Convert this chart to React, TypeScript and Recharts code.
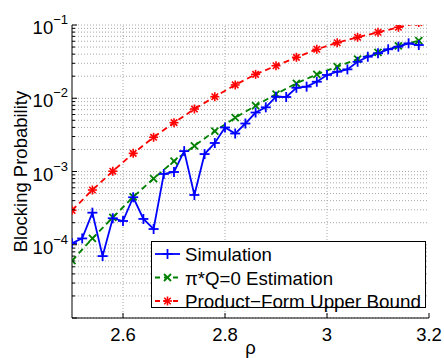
import React from "react";
import {
  LineChart,
  Line,
  XAxis,
  YAxis,
  ReferenceLine,
  Legend,
} from "recharts";

// Load values (rho) for each curve
const simRho = [
  2.5, 2.52, 2.54, 2.56, 2.58, 2.6, 2.62, 2.64, 2.66, 2.68, 2.7, 2.72, 2.74,
  2.76, 2.78, 2.8, 2.82, 2.84, 2.86, 2.88, 2.9, 2.92, 2.94, 2.96, 2.98, 3.0,
  3.02, 3.04, 3.06, 3.08, 3.1, 3.12, 3.14, 3.16, 3.18,
];
const simBlocking = [
  1.05e-4, 1.22e-4, 2.74e-4, 7.0e-5, 2.3e-4, 2.11e-4, 4.45e-4, 2.25e-4,
  1.64e-4, 9.25e-4, 9.85e-4, 1.9e-3, 4.78e-4, 1.73e-3, 2.45e-3, 3.99e-3,
  3.3e-3, 4.52e-3, 6.38e-3, 7.52e-3, 1.05e-2, 1.04e-2, 1.39e-2, 1.44e-2,
  1.68e-2, 2.08e-2, 2.3e-2, 2.48e-2, 3.15e-2, 3.69e-2, 4.11e-2, 4.66e-2,
  5.06e-2, 5.62e-2, 5.33e-2,
];

const analyticRho = [
  2.5, 2.54, 2.58, 2.62, 2.66, 2.7, 2.74, 2.78, 2.82, 2.86, 2.9, 2.94, 2.98,
  3.02, 3.06, 3.1, 3.14, 3.18,
];
const estimationBlocking = [
  6.05e-5, 1.22e-4, 2.36e-4, 4.49e-4, 8.0e-4, 1.39e-3, 2.24e-3, 3.57e-3,
  5.42e-3, 7.91e-3, 1.14e-2, 1.6e-2, 2.12e-2, 2.7e-2, 3.43e-2, 4.24e-2,
  5.17e-2, 6.1e-2,
];
const upperBoundBlocking = [
  2.95e-4, 5.59e-4, 1.01e-3, 1.77e-3, 2.93e-3, 4.64e-3, 7.13e-3, 1.05e-2,
  1.52e-2, 2.12e-2, 2.78e-2, 3.62e-2, 4.66e-2, 5.73e-2, 6.79e-2, 7.95e-2,
  9.3e-2, 1.08e-1,
];

// Axis ticks
const rhoTicks = [2.6, 2.8, 3.0, 3.2];
const rhoTickLabels = ["2.6", "2.8", "3", "3.2"];
const decades = [1e-5, 1e-4, 1e-3, 1e-2];
const mantissas = [1, 2, 3, 4, 5, 6, 7, 8, 9];
const logTicks = [
  ...decades.flatMap((d) => mantissas.map((m) => +(m * d).toPrecision(3))),
  1e-1,
];

const simData = simRho.map((rho, i) => ({ rho, p: simBlocking[i] }));
const estData = analyticRho.map((rho, i) => ({ rho, p: estimationBlocking[i] }));
const boundData = analyticRho.map((rho, i) => ({ rho, p: upperBoundBlocking[i] }));

const FONT = '"Liberation Sans", Arial, Helvetica, sans-serif';
const FS = 18.5;
const BLUE = "#0000ff";
const GREEN = "#008000";
const RED = "#ff0000";
const GRID = "#a8a8a8";

const isDecade = (v: number) =>
  Math.abs(Math.log10(v) - Math.round(Math.log10(v))) < 1e-6;

// marker shapes
const PlusMark = ({ cx, cy }: any) => (
  <g stroke={BLUE} strokeWidth={1.8}>
    <line x1={cx - 5} x2={cx + 5} y1={cy} y2={cy} />
    <line x1={cx} x2={cx} y1={cy - 5} y2={cy + 5} />
  </g>
);

const CrossMark = ({ cx, cy }: any) => (
  <g stroke={GREEN} strokeWidth={1.8}>
    <line x1={cx - 3.5} x2={cx + 3.5} y1={cy - 3.5} y2={cy + 3.5} />
    <line x1={cx - 3.5} x2={cx + 3.5} y1={cy + 3.5} y2={cy - 3.5} />
  </g>
);

const StarMark = ({ cx, cy }: any) => {
  const r = 4.5;
  const d = r * 0.72;
  return (
    <g stroke={RED} strokeWidth={1.6}>
      <line x1={cx - r} x2={cx + r} y1={cy} y2={cy} />
      <line x1={cx} x2={cx} y1={cy - r} y2={cy + r} />
      <line x1={cx - d} x2={cx + d} y1={cy - d} y2={cy + d} />
      <line x1={cx - d} x2={cx + d} y1={cy + d} y2={cy - d} />
    </g>
  );
};

// ticks point inward, MATLAB style
const LeftTick = ({ x, y, payload }: any) => {
  const v = payload.value;
  const major = isDecade(v);
  const exp = Math.round(Math.log10(v));
  return (
    <g>
      <line x1={x} x2={x + (major ? 5 : 3)} y1={y} y2={y} stroke="#000" />
      {major && exp > -5 && (
        <text x={x - 4} y={y + 9} textAnchor="end" fontFamily={FONT} fontSize={FS} fill="#000">
          <tspan>10</tspan>
          <tspan dy={-10} fontSize={13}>{`\u2212${-exp}`}</tspan>
        </text>
      )}
    </g>
  );
};

const RightTick = ({ x, y, payload }: any) => (
  <line x1={x} x2={x - (isDecade(payload.value) ? 5 : 3)} y1={y} y2={y} stroke="#000" />
);

const BottomTick = ({ x, y, payload, index }: any) => (
  <g>
    <line x1={x} x2={x} y1={y} y2={y - 5} stroke="#000" />
    <text x={x} y={y + 23} textAnchor="middle" fontFamily={FONT} fontSize={FS} fill="#000">
      {rhoTickLabels[index] ?? String(payload.value)}
    </text>
  </g>
);

const TopTick = ({ x, y }: any) => (
  <line x1={x} x2={x} y1={y} y2={y + 5} stroke="#000" />
);

const YTitle = ({ viewBox }: any) => {
  const cy = viewBox.y + viewBox.height / 2;
  return (
    <text
      x={27}
      y={cy}
      transform={`rotate(-90, 27, ${cy})`}
      textAnchor="middle"
      fontFamily={FONT}
      fontSize={FS}
      fill="#000"
    >
      Blocking Probability
    </text>
  );
};

const legendRows = [
  { label: "Simulation", color: BLUE, dash: undefined, Mark: PlusMark, width: 87 },
  { label: "\u03c0*Q=0 Estimation", color: GREEN, dash: "5 4", Mark: CrossMark, width: 148 },
  { label: "Product\u2212Form Upper Bound", color: RED, dash: "5 4", Mark: StarMark, width: 236 },
];

const LegendBox = () => (
  <svg width={276} height={68} style={{ display: "block", overflow: "visible" }}>
    <rect x={0.5} y={0.5} width={274} height={66} fill="#fff" stroke="#000" />
    {legendRows.map((row, i) => {
      const cy = 13 + i * 23.5;
      return (
        <g key={row.label}>
          <line x1={4} x2={29} y1={cy} y2={cy} stroke={row.color} strokeWidth={1.8} strokeDasharray={row.dash} />
          <row.Mark cx={16.5} cy={cy} />
          <text
            x={34}
            y={cy + 7}
            fontFamily={FONT}
            fontSize={FS}
            fill="#000"
            textLength={row.width}
            lengthAdjust="spacingAndGlyphs"
          >
            {row.label}
          </text>
        </g>
      );
    })}
  </svg>
);

export default function App() {
  return (
    <div style={{ position: "absolute", left: 0, top: 0, width: 444, height: 358, background: "#fff" }}>
      <LineChart width={444} height={358} margin={{ top: 25, right: 15, bottom: 0, left: 0 }}>
        {/* dotted grid: minor + major on the log axis, major only on rho */}
        {logTicks.map((v) => (
          <ReferenceLine key={`h-${v}`} y={v} stroke={GRID} strokeDasharray="1 2" strokeWidth={1} />
        ))}
        {rhoTicks.slice(0, 3).map((v) => (
          <ReferenceLine key={`v-${v}`} x={v} stroke={GRID} strokeDasharray="1 2" strokeWidth={1} />
        ))}

        <XAxis
          dataKey="rho"
          type="number"
          domain={[2.5, 3.2]}
          ticks={rhoTicks}
          interval={0}
          allowDataOverflow
          height={40}
          tickSize={0}
          tickMargin={0}
          tickLine={false}
          axisLine={{ stroke: "#000" }}
          tick={<BottomTick />}
          label={{ value: "\u03c1", position: "insideBottom", offset: 4, fontSize: FS, fill: "#000", fontFamily: FONT }}
        />
        <XAxis
          xAxisId="top"
          orientation="top"
          type="number"
          domain={[2.5, 3.2]}
          ticks={rhoTicks}
          interval={0}
          allowDataOverflow
          height={0}
          tickSize={0}
          tickMargin={0}
          tickLine={false}
          axisLine={{ stroke: "#000" }}
          tick={<TopTick />}
        />
        <YAxis
          type="number"
          scale="log"
          domain={[1e-5, 1e-1]}
          ticks={logTicks}
          interval={0}
          allowDataOverflow
          width={72}
          tickSize={0}
          tickMargin={0}
          tickLine={false}
          axisLine={{ stroke: "#000" }}
          tick={<LeftTick />}
          label={<YTitle />}
        />
        <YAxis
          yAxisId="right"
          orientation="right"
          type="number"
          scale="log"
          domain={[1e-5, 1e-1]}
          ticks={logTicks}
          interval={0}
          allowDataOverflow
          width={0}
          tickSize={0}
          tickMargin={0}
          tickLine={false}
          axisLine={{ stroke: "#000" }}
          tick={<RightTick />}
        />

        <Line
          data={boundData}
          dataKey="p"
          stroke={RED}
          strokeWidth={1.8}
          strokeDasharray="6 4"
          isAnimationActive={false}
          activeDot={false}
          dot={(p: any) => <StarMark key={`r-${p.index}`} cx={p.cx} cy={p.cy} />}
        />
        <Line
          data={estData}
          dataKey="p"
          stroke={GREEN}
          strokeWidth={1.8}
          strokeDasharray="6 4"
          isAnimationActive={false}
          activeDot={false}
          dot={(p: any) => <CrossMark key={`g-${p.index}`} cx={p.cx} cy={p.cy} />}
        />
        <Line
          data={simData}
          dataKey="p"
          stroke={BLUE}
          strokeWidth={1.8}
          isAnimationActive={false}
          activeDot={false}
          dot={(p: any) => <PlusMark key={`b-${p.index}`} cx={p.cx} cy={p.cy} />}
        />

        <Legend
          layout="vertical"
          align="center"
          verticalAlign="middle"
          wrapperStyle={{ left: 151, top: 241, width: 276, height: 68 }}
          content={() => <LegendBox />}
        />
      </LineChart>
    </div>
  );
}
